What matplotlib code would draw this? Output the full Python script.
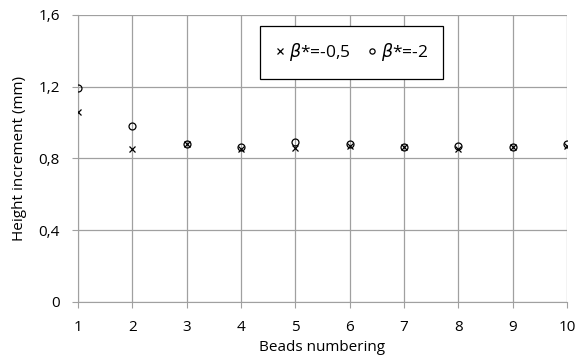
import numpy as np
import matplotlib
matplotlib.use("Agg")
import matplotlib.pyplot as plt

plt.rcParams["font.family"] = ["Open Sans", "DejaVu Sans"]
plt.rcParams["mathtext.fontset"] = "dejavusans"

beads = [1, 2, 3, 4, 5, 6, 7, 8, 9, 10]
h_beta_05 = [1.06, 0.85, 0.88, 0.855, 0.86, 0.87, 0.865, 0.853, 0.865, 0.87]
h_beta_2 = [1.19, 0.98, 0.88, 0.865, 0.89, 0.88, 0.865, 0.872, 0.865, 0.882]
yticks = [0, 0.4, 0.8, 1.2, 1.6]
yticklabels = ["0", "0,4", "0,8", "1,2", "1,6"]

fig = plt.figure(figsize=(5.79, 3.56), dpi=100)
ax = fig.add_axes([0.1347, 0.152, 0.8446, 0.806])

ax.plot(beads, h_beta_05, "x", color="black", markersize=5, markeredgewidth=0.9,
        linestyle="none", label=r"$\beta$*=-0,5", zorder=3)
ax.plot(beads, h_beta_2, "o", color="black", markerfacecolor="none", markersize=5,
        markeredgewidth=0.9, linestyle="none", label=r"$\beta$*=-2", zorder=3)

ax.set_xlim(1, 10)
ax.set_ylim(0, 1.6)
ax.set_xticks(beads)
ax.set_yticks(yticks)
ax.set_yticklabels(yticklabels)
ax.grid(True, color="#a0a0a0", linewidth=0.9)
ax.set_axisbelow(True)
for s in ["top", "right"]:
    ax.spines[s].set_visible(False)
ax.spines["bottom"].set_color("#a0a0a0")
ax.spines["left"].set_color("#a0a0a0")
ax.tick_params(axis="y", length=4, color="#a0a0a0", pad=9, labelsize=11)
ax.tick_params(axis="x", length=4, color="#a0a0a0", pad=9, labelsize=11)

ax.set_xlabel("Beads numbering", fontsize=11, labelpad=4)
ax.set_ylabel("Height increment (mm)", fontsize=11, labelpad=8)

leg = ax.legend(loc="upper left", bbox_to_anchor=(0.372, 0.962), ncol=2,
                borderaxespad=0, fancybox=False, framealpha=1, edgecolor="black",
                fontsize=12.5, handlelength=0.5, handletextpad=0.25,
                columnspacing=1.0, borderpad=0.9, markerscale=0.75)
leg.get_frame().set_linewidth(0.9)

plt.savefig("out.png", dpi=100)
